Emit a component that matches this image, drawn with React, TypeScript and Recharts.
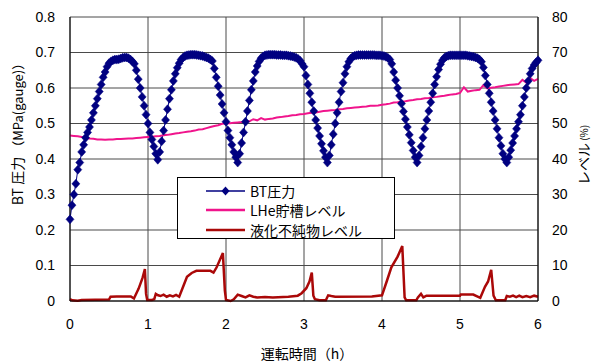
import React from "react";
import { CartesianGrid, Label, Legend, Line, LineChart, XAxis, YAxis } from "recharts";

// time axis (h) and the two value axes
const hourTicks = [0, 1, 2, 3, 4, 5, 6];
const halfHourTicks = [0.5, 1.5, 2.5, 3.5, 4.5, 5.5];
const pressureTicks = [0, 0.1, 0.2, 0.3, 0.4, 0.5, 0.6, 0.7, 0.8];
const levelTicks = [0, 10, 20, 30, 40, 50, 60, 70, 80];

const seriesNames = ["BT圧力", "LHe貯槽レベル", "液化不純物レベル"];

// BT pressure, MPa(gauge), sampled every 0.025 h
const BT_STEP = 0.025;
const btPressure = [
  0.23, 0.27, 0.3, 0.33, 0.37, 0.39, 0.42, 0.44, 0.46, 0.475,
  0.49, 0.51, 0.53, 0.55, 0.57, 0.59, 0.61, 0.63, 0.645, 0.66,
  0.67, 0.675, 0.678, 0.68, 0.68, 0.681, 0.683, 0.685, 0.686, 0.686,
  0.684, 0.68, 0.675, 0.668, 0.65, 0.625, 0.6, 0.575, 0.55, 0.525,
  0.5, 0.475, 0.455, 0.435, 0.415, 0.398, 0.42, 0.45, 0.48, 0.51,
  0.54, 0.57, 0.595, 0.62, 0.64, 0.657, 0.67, 0.68, 0.686, 0.69,
  0.692, 0.693, 0.694, 0.694, 0.694, 0.693, 0.692, 0.691, 0.69, 0.688,
  0.686, 0.684, 0.68, 0.676, 0.655, 0.63, 0.605, 0.58, 0.555, 0.53,
  0.505, 0.48, 0.46, 0.44, 0.42, 0.405, 0.39, 0.415, 0.445, 0.475,
  0.505, 0.535, 0.565, 0.595, 0.62, 0.645, 0.662, 0.675, 0.684, 0.689,
  0.692, 0.693, 0.694, 0.694, 0.694, 0.694, 0.693, 0.693, 0.693, 0.692,
  0.692, 0.692, 0.691, 0.69, 0.689, 0.687, 0.685, 0.682, 0.677, 0.668,
  0.66, 0.635, 0.61, 0.585, 0.56, 0.535, 0.51, 0.487, 0.465, 0.443,
  0.423, 0.405, 0.39, 0.41, 0.44, 0.47, 0.5, 0.53, 0.56, 0.59,
  0.615, 0.64, 0.66, 0.674, 0.683, 0.688, 0.691, 0.692, 0.693, 0.693,
  0.693, 0.693, 0.693, 0.693, 0.693, 0.693, 0.693, 0.692, 0.692, 0.692,
  0.691, 0.69, 0.688, 0.685, 0.68, 0.668, 0.645, 0.622, 0.6, 0.578,
  0.556, 0.534, 0.512, 0.49, 0.468, 0.446, 0.424, 0.405, 0.39, 0.41,
  0.435, 0.46, 0.485, 0.51, 0.535, 0.56, 0.585, 0.61, 0.632, 0.652,
  0.667, 0.678, 0.685, 0.689, 0.691, 0.692, 0.692, 0.692, 0.692, 0.692,
  0.692, 0.692, 0.692, 0.692, 0.691, 0.69, 0.689, 0.688, 0.686, 0.684,
  0.68, 0.674, 0.658, 0.635, 0.61, 0.585, 0.56, 0.535, 0.51, 0.485,
  0.46, 0.437, 0.415, 0.4, 0.39, 0.405, 0.425, 0.445, 0.465, 0.485,
  0.505, 0.525, 0.55, 0.575, 0.6, 0.62, 0.64, 0.655, 0.665, 0.672,
  0.678,
];

// LHe tank level, %, every 0.05 h
const LHE_STEP = 0.05;
const lheLevel = [
  46.6, 46.5, 46.4, 46.2, 46.0, 45.8, 45.7, 45.5, 45.5, 45.4,
  45.5, 45.5, 45.6, 45.6, 45.7, 45.8, 45.8, 45.9, 46.0, 46.1,
  46.2, 46.3, 46.4, 46.5, 46.7, 46.8, 47.0, 47.2, 47.3, 47.5,
  47.7, 47.8, 48.0, 48.3, 48.4, 48.7, 49.0, 49.3, 49.5, 49.9,
  50.0, 50.1, 50.2, 50.3, 50.4, 50.6, 50.6, 51.2, 50.9, 51.5,
  51.1, 51.3, 51.4, 51.7, 51.8, 52.0, 52.1, 52.3, 52.4, 52.6,
  52.7, 52.9, 53.0, 53.1, 53.3, 53.5, 53.6, 53.7, 53.8, 54.0,
  54.1, 54.3, 54.4, 54.5, 54.6, 54.7, 54.8, 55.0, 55.0, 55.1,
  55.3, 55.4, 55.6, 55.9, 56.0, 56.2, 56.3, 56.5, 56.6, 56.8,
  56.9, 57.1, 57.2, 57.4, 57.5, 57.7, 57.8, 58.0, 58.2, 58.3,
  58.6, 60.2, 59.0, 59.2, 59.4, 59.5, 60.8, 59.9, 60.1, 60.2,
  60.4, 60.6, 60.8, 60.9, 61.0, 61.1, 62.3, 61.5, 62.8, 62.0,
  62.6,
];

// liquefied impurity level, %
const impurityTime = [
  0, 0.03, 0.1, 0.15, 0.5, 0.52, 0.6, 0.78, 0.82, 0.88,
  0.93, 0.96, 0.975, 0.99, 1.05, 1.08, 1.1, 1.13, 1.16, 1.2,
  1.24, 1.28, 1.32, 1.36, 1.4, 1.45, 1.5, 1.56, 1.62, 1.8,
  1.84, 1.88, 1.96, 1.985, 2.0, 2.06, 2.1, 2.15, 2.2, 2.25,
  2.3, 2.35, 2.4, 2.5, 2.6, 2.8, 2.92, 2.97, 3.03, 3.07,
  3.1, 3.12, 3.14, 3.2, 3.28, 3.31, 3.35, 3.4, 3.87, 4.0,
  4.06, 4.12, 4.2, 4.26, 4.29, 4.31, 4.44, 4.46, 4.5, 4.53,
  4.57, 5.0, 5.01, 5.17, 5.26, 5.32, 5.36, 5.4, 5.43, 5.46,
  5.58, 5.6, 5.64, 5.68, 5.72, 5.76, 5.8, 5.85, 5.9, 5.95,
  6.0,
];
const impurityLevel = [
  0.5, 0.2, 0.1, 0.3, 0.4, 1.2, 1.3, 1.3, 0.7, 3.5,
  6.5, 9.0, 2.0, 0.3, 0.3, 0.5, 2.0, 1.6, 1.4, 1.8,
  1.2, 1.6, 1.3, 1.7, 1.2, 4.0, 6.8, 7.9, 8.5, 8.5,
  8.0, 9.5, 13.5, 3.0, 0.3, 0.0, 0.5, 1.8, 1.4, 1.0,
  1.6, 1.2, 1.0, 1.1, 1.0, 1.2, 1.5, 2.2, 3.6, 5.5,
  8.0, 1.5, 0.5, 0.2, 0.2, 1.6, 1.4, 1.2, 1.3, 1.6,
  5.5, 9.5, 12.5, 15.5, 1.0, 0.2, 0.2, 1.0, 2.0, 1.0,
  1.5, 1.5, 1.8, 1.8, 0.9, 4.0, 5.5, 8.8, 1.5, 0.2,
  0.2, 1.4, 1.2, 1.5, 1.1, 1.5, 1.1, 1.4, 1.1, 1.5,
  1.2,
];

const btData = btPressure.map((p, i) => ({ t: +(i * BT_STEP).toFixed(3), p }));
const lheData = lheLevel.map((v, i) => ({ t: +(i * LHE_STEP).toFixed(3), v }));
const impurityData = impurityTime.map((t, i) => ({ t, v: impurityLevel[i] }));

const NAVY = "#000080";
const PINK = "#f0148c";
const DARK_RED = "#aa0808";
const NUM_FONT = "'Liberation Sans', Arial, sans-serif";
const JP_FONT = "'Noto Sans CJK JP', 'Liberation Sans', sans-serif";

const tickStyle = { fontFamily: NUM_FONT, fontSize: 14, fill: "#000" };

const Diamond = (props: any) => {
  const { cx, cy, index } = props;
  if (cx == null || cy == null) return <g key={index} />;
  return (
    <path
      key={index}
      d={`M${cx},${cy - 4.5}L${cx + 4},${cy}L${cx},${cy + 4.5}L${cx - 4},${cy}Z`}
      fill={NAVY}
      stroke={NAVY}
      strokeWidth={0.5}
    />
  );
};

const renderLegend = () => {
  const colors = [NAVY, PINK, DARK_RED];
  return (
    <div
      style={{
        width: 218,
        height: 62,
        border: "1px solid #000",
        background: "#fff",
        boxSizing: "border-box",
        paddingTop: 3,
      }}
    >
      {seriesNames.map((name, i) => (
        <div key={name} style={{ display: "flex", alignItems: "center", height: 19.5 }}>
          <svg width={72} height={12} style={{ flex: "none" }}>
            <line
              x1={28}
              x2={67}
              y1={6}
              y2={6}
              stroke={colors[i]}
              strokeWidth={i === 0 ? 1.5 : 2.5}
            />
            {i === 0 && <path d="M47.5,1.5L51.5,6L47.5,10.5L43.5,6Z" fill={NAVY} />}
          </svg>
          <span style={{ fontFamily: JP_FONT, fontSize: 14, color: "#000", lineHeight: "16px" }}>
            {name}
          </span>
        </div>
      ))}
    </div>
  );
};

export default function App() {
  return (
    <div style={{ position: "absolute", left: 0, top: 0, width: 592, height: 362, background: "#fff" }}>
      <LineChart width={592} height={362} margin={{ top: 17, right: 0, bottom: 0, left: 0 }}>
        <CartesianGrid yAxisId="left" stroke="#4a4a4a" strokeWidth={1} />
        {/* minor half-hour ticks pointing into the plot */}
        <XAxis
          xAxisId="minor"
          type="number"
          domain={[0, 6]}
          ticks={halfHourTicks}
          height={0}
          mirror
          tickSize={4}
          tick={false}
          axisLine={false}
          tickLine={{ stroke: "#000", strokeWidth: 1 }}
        />
        <XAxis
          dataKey="t"
          type="number"
          domain={[0, 6]}
          ticks={hourTicks}
          allowDuplicatedCategory={false}
          height={61}
          tickLine={false}
          tickSize={0}
          tickMargin={18}
          tick={tickStyle}
          axisLine={{ stroke: "#000", strokeWidth: 1 }}
        >
          <Label
            content={(p: any) => {
              const vb = p.viewBox;
              return (
                <text
                  x={vb.x + vb.width / 2 + 3}
                  y={vb.y + 58}
                  textAnchor="middle"
                  fontFamily={JP_FONT}
                  fontSize={14}
                  fill="#000"
                >
                  運転時間（h）
                </text>
              );
            }}
          />
        </XAxis>
        <YAxis
          yAxisId="left"
          domain={[0, 0.8]}
          ticks={pressureTicks}
          width={70}
          tickLine={false}
          tickSize={0}
          tickMargin={15}
          tick={tickStyle}
          tickFormatter={(v: number) => (v === 0 ? "0" : v.toFixed(1))}
          axisLine={{ stroke: "#000", strokeWidth: 1 }}
        >
          <Label
            content={(p: any) => {
              const vb = p.viewBox;
              const cx = vb.x + 17;
              const cy = vb.y + vb.height / 2 - 28;
              return (
                <text
                  x={cx}
                  y={cy}
                  transform={`rotate(-90 ${cx} ${cy})`}
                  textAnchor="middle"
                  dominantBaseline="central"
                  fill="#000"
                  fontFamily={JP_FONT}
                >
                  <tspan fontSize={14}>BT 圧力 </tspan>
                  <tspan fontSize={13}>（MPa(gauge)）</tspan>
                </text>
              );
            }}
          />
        </YAxis>
        <YAxis
          yAxisId="right"
          orientation="right"
          domain={[0, 80]}
          ticks={levelTicks}
          width={54}
          tickLine={false}
          tickSize={0}
          tickMargin={14}
          tick={tickStyle}
          axisLine={{ stroke: "#000", strokeWidth: 1 }}
        >
          <Label
            content={(p: any) => {
              const vb = p.viewBox;
              const cx = vb.x + 45;
              const cy = vb.y + vb.height / 2 - 4;
              return (
                <text
                  x={cx}
                  y={cy}
                  transform={`rotate(-90 ${cx} ${cy})`}
                  textAnchor="middle"
                  dominantBaseline="central"
                  fill="#000"
                  fontFamily={JP_FONT}
                >
                  <tspan fontSize={14}>レベル</tspan>
                  <tspan fontSize={10}> (%)</tspan>
                </text>
              );
            }}
          />
        </YAxis>
        <Legend
          layout="horizontal"
          verticalAlign="middle"
          align="center"
          content={renderLegend}
          wrapperStyle={{ left: 177, top: 177, width: 220, height: 64 }}
        />
        <Line
          data={btData}
          dataKey="p"
          yAxisId="left"
          type="linear"
          stroke={NAVY}
          strokeWidth={1}
          dot={Diamond}
          activeDot={false}
          isAnimationActive={false}
        />
        <Line
          data={lheData}
          dataKey="v"
          yAxisId="right"
          type="linear"
          stroke={PINK}
          strokeWidth={2}
          dot={false}
          activeDot={false}
          isAnimationActive={false}
        />
        <Line
          data={impurityData}
          dataKey="v"
          yAxisId="right"
          type="linear"
          stroke={DARK_RED}
          strokeWidth={2.5}
          dot={false}
          activeDot={false}
          isAnimationActive={false}
        />
      </LineChart>
    </div>
  );
}
